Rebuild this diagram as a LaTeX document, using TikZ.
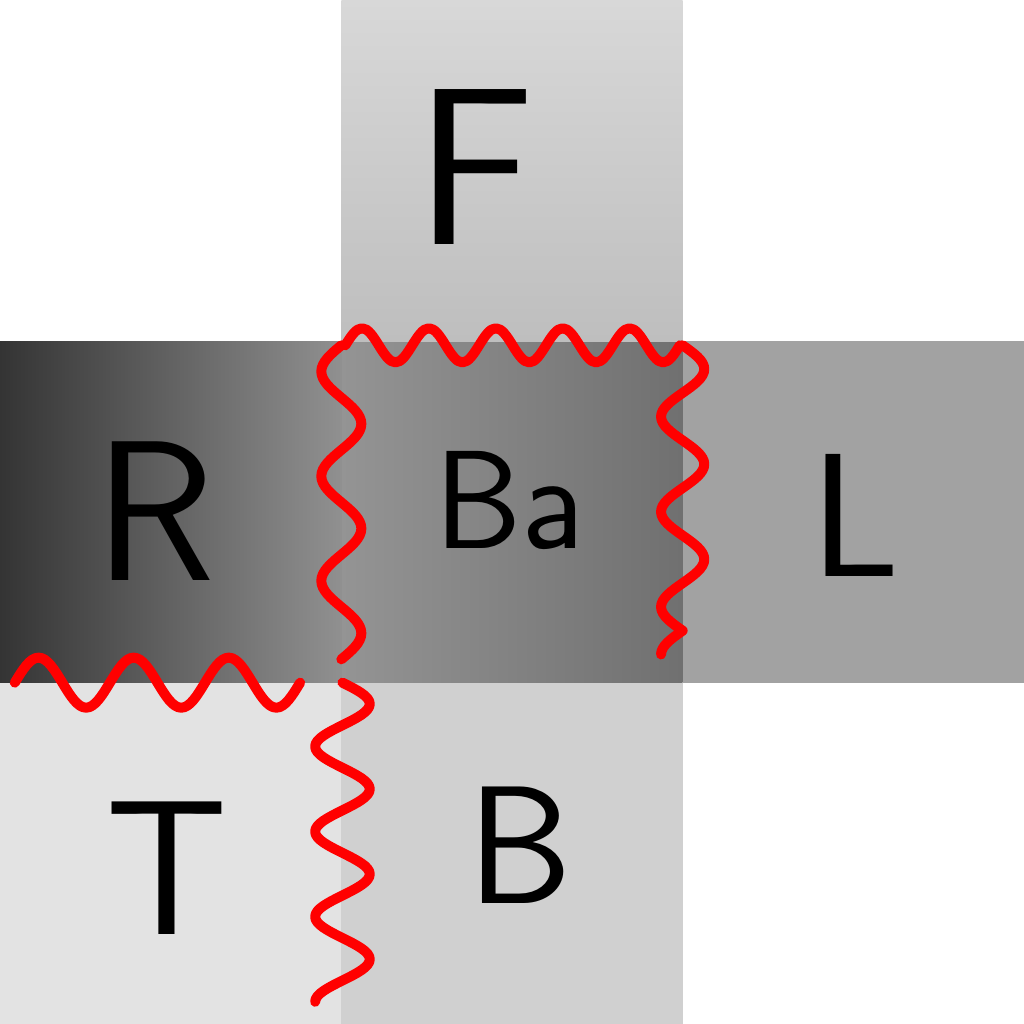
\documentclass[tikz,border=0pt]{standalone}
\usepackage{xcolor}
\usepackage{tikz}
\usetikzlibrary{positioning}
\definecolor{frontTop}{RGB}{216,216,216}
\definecolor{frontBot}{RGB}{190,190,190}
\definecolor{rightDark}{RGB}{52,52,52}
\definecolor{rightMid}{RGB}{122,122,122}
\definecolor{rightLight}{RGB}{144,144,144}
\definecolor{backLeft}{RGB}{148,148,148}
\definecolor{backMid}{RGB}{140,140,140}
\definecolor{backRight}{RGB}{112,112,112}
\definecolor{leftFill}{RGB}{162,162,162}
\definecolor{topFill}{RGB}{227,227,227}
\definecolor{bottomFill}{RGB}{208,208,208}
\definecolor{seamRed}{RGB}{255,0,0}
\tikzset{
  faceBox/.style={
    rectangle,
    minimum size=3cm,
    inner sep=0pt,
    outer sep=0pt
  },
  faceLabel/.style={
    font=\sffamily,
    text=black,
    inner sep=0pt
  },
  seam/.style={
    draw=seamRed,
    line width=2.5pt,
    line cap=round,
    line join=round
  }
}
\begin{document}
\begin{tikzpicture}[node distance=0pt]
  \node[faceBox, left color=backLeft, middle color=backMid, right color=backRight] (back) at (0,0) {};
  \node[faceBox, top color=frontTop, bottom color=frontBot, above=of back] (front) {};
  \node[faceBox, left color=rightDark, middle color=rightMid, right color=rightLight, left=of back] (right) {};
  \node[faceBox, fill=leftFill, right=of back] (left) {};
  \node[faceBox, fill=topFill, below=of right] (top) {};
  \node[faceBox, fill=bottomFill, below=of back] (bottom) {};
  \path[use as bounding box] (right.west |- front.north) rectangle (left.east |- bottom.south);

  \node[faceLabel, font=\sffamily\fontsize{56}{60}\selectfont, xshift=-3.2mm, yshift=0.3mm] (fLabel) at (front) {F};
  \node[faceLabel, font=\sffamily\fontsize{50}{54}\selectfont, xshift=-1.4mm, yshift=0.1mm] (rLabel) at (right) {R};
  \node[faceLabel, font=\sffamily\fontsize{35}{38}\selectfont, xshift=-0.2mm, yshift=1mm] (baLabel) at (back) {Ba};
  \node[faceLabel, font=\sffamily\fontsize{44}{46}\selectfont, xshift=0.2mm, yshift=-0.3mm] (lLabel) at (left) {L};
  \node[faceLabel, font=\sffamily\fontsize{48}{52}\selectfont, xshift=-0.3mm, yshift=-1.3mm] (tLabel) at (top) {T};
  \node[faceLabel, font=\sffamily\fontsize{42}{44}\selectfont, xshift=0.7mm, yshift=0.7mm] (bLabel) at (bottom) {B};

  \coordinate (backTopSeam) at ([xshift=0.35mm, yshift=-0.35mm]back.north west);
  \coordinate (backRightSeam) at ([yshift=-0.35mm]back.north east);
  \coordinate (backLeftSeam) at ([yshift=-0.35mm]back.north west);
  \coordinate (rightBottomSeam) at ([xshift=1.3mm]right.south west);
  \coordinate (bottomLeftSeam) at ([xshift=0.1mm]bottom.north west);

  \draw[seam] (backTopSeam) \foreach \k in {1,...,5} {sin ++(0.147,0.15) cos ++(0.147,-0.15) sin ++(0.147,-0.15) cos ++(0.147,0.15)};
  \draw[seam, rotate=-90] (backRightSeam) \foreach \k in {1,...,3} {sin ++(0.209,0.19) cos ++(0.209,-0.19) sin ++(0.209,-0.19) cos ++(0.209,0.19)} sin ++(0.209,-0.19);
  \draw[seam, rotate=-90] (backLeftSeam) \foreach \k in {1,...,3} {sin ++(0.23,-0.176) cos ++(0.23,0.176) sin ++(0.23,0.176) cos ++(0.23,-0.176)};
  \draw[seam] (rightBottomSeam) \foreach \k in {1,...,3} {sin ++(0.209,0.22) cos ++(0.209,-0.22) sin ++(0.209,-0.22) cos ++(0.209,0.22)};
  \draw[seam, rotate=-90] (bottomLeftSeam) \foreach \k in {1,...,3} {sin ++(0.187,0.24) cos ++(0.187,-0.24) sin ++(0.187,-0.24) cos ++(0.187,0.24)} sin ++(0.187,0.24) cos ++(0.187,-0.24) sin ++(0.187,-0.24);
\end{tikzpicture}
\end{document}
